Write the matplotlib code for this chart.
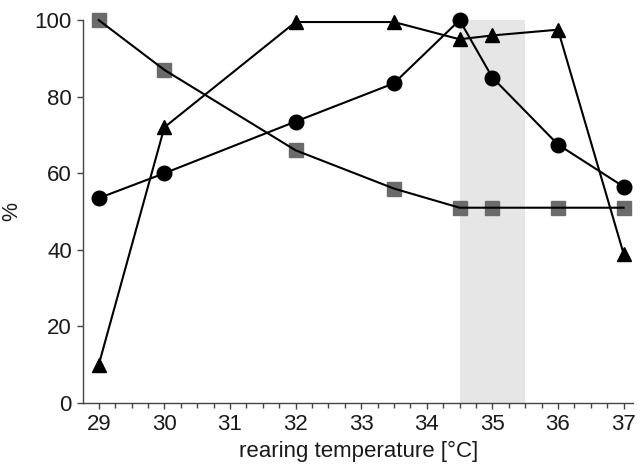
import matplotlib
matplotlib.use("Agg")
import matplotlib.pyplot as plt
from matplotlib.ticker import MultipleLocator

plt.rcParams['font.family'] = ['Liberation Sans', 'DejaVu Sans']

temps = [29, 30, 32, 33.5, 34.5, 35, 36, 37]
squares = [100, 87, 66, 56, 51, 51, 51, 51]
triangles = [10, 72, 99.5, 99.5, 95, 96, 97.5, 39]
circles = [53.5, 60, 73.5, 83.5, 100, 85, 67.5, 56.5]
shade_range = (34.5, 35.5)
xticks = [29, 30, 31, 32, 33, 34, 35, 36, 37]
yticks = [0, 20, 40, 60, 80, 100]

fig = plt.figure(figsize=(6.43, 4.68), dpi=100)
ax = fig.add_axes([0.1291, 0.139, 0.856, 0.818])

ax.axvspan(shade_range[0], shade_range[1], ymin=0, ymax=1, color='#e6e6e6', lw=0, zorder=0)

ax.plot(temps, squares, ls='none', marker='s', ms=10.5, mfc='#6b6b6b', mec='#6b6b6b', zorder=2, clip_on=False)
ax.plot(temps, squares, color='black', lw=1.5, zorder=3, clip_on=False)
ax.plot(temps, triangles, color='black', lw=1.5, marker='^', ms=10.5, zorder=4, clip_on=False)
ax.plot(temps, circles, color='black', lw=1.5, marker='o', ms=10.5, zorder=5, clip_on=False)

ax.set_xlim(28.76, 37.15)
ax.set_ylim(0, 100)
ax.set_xticks(xticks)
ax.set_yticks(yticks)
ax.xaxis.set_minor_locator(MultipleLocator(0.25))

for s in ['top', 'right']:
    ax.spines[s].set_visible(False)
for s in ['left', 'bottom']:
    ax.spines[s].set_color('#444444')
    ax.spines[s].set_linewidth(1.0)

ax.tick_params(axis='both', which='major', direction='out', length=4, width=1, color='#444444', labelsize=16, labelcolor='#1a1a1a', pad=4)
ax.tick_params(axis='x', which='minor', direction='out', length=3.5, width=1, color='#444444')

ax.set_xlabel('rearing temperature [°C]', fontsize=16, color='#1a1a1a', labelpad=4)
ax.set_ylabel('%', fontsize=15.5, color='#1a1a1a')
ax.yaxis.set_label_coords(-0.111, 0.5)

fig.savefig('out.png', dpi=100)
